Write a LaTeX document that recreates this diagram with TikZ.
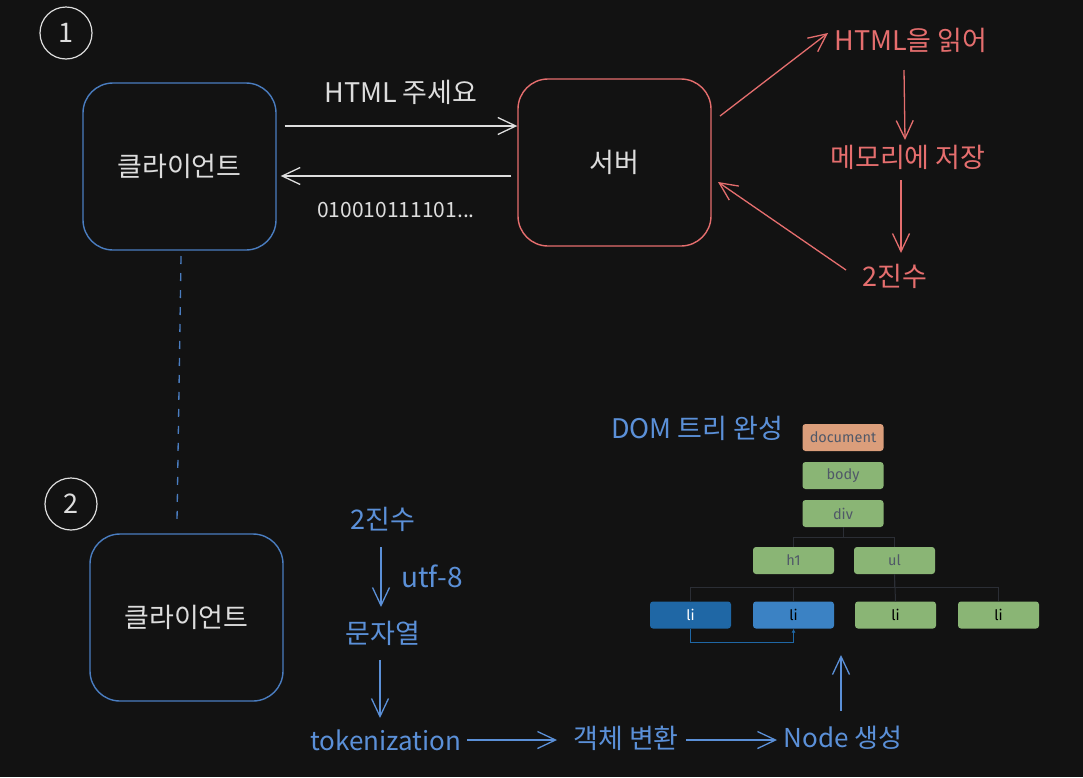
\documentclass[tikz,border=0pt]{standalone}
\usepackage{fontspec}
\setmainfont{Noto Sans CJK KR}
\newfontfamily\domfont{Fira Sans}
\usetikzlibrary{arrows.meta}
\definecolor{bg}{HTML}{121212}
\definecolor{ink}{HTML}{DDDDDD}
\definecolor{cblue}{HTML}{4A7DC0}
\definecolor{lblue}{HTML}{5B90D8}
\definecolor{cred}{HTML}{E56E6E}
\definecolor{dorange}{HTML}{DB9E7B}
\definecolor{dgreen}{HTML}{8AB575}
\definecolor{dblue1}{HTML}{1F67A5}
\definecolor{dblue2}{HTML}{3B82C4}
\definecolor{dline}{HTML}{2B2E35}
\definecolor{dtext}{HTML}{505868}
\tikzset{
  bigbox/.style={draw, line width=1.4pt, rounded corners=30pt, minimum width=193pt, minimum height=167pt, text=ink, font=\fontsize{27}{32}\selectfont},
  numcirc/.style={circle, draw=ink, line width=1.2pt, minimum size=52pt, inner sep=0pt, text=ink, font=\fontsize{27}{31}\selectfont},
  lbl/.style={inner sep=2pt, font=\fontsize{27}{32}\selectfont},
  arr/.style={line width=1.3pt, -{Straight Barb[length=18pt,width=17pt,line width=1.3pt]}},
  domb/.style={rounded corners=3pt, minimum width=81pt, minimum height=27pt, inner sep=0pt, font=\domfont\fontsize{14.5}{17}\selectfont, text=dtext},
  dcon/.style={draw=dline, line width=1pt}
}
\begin{document}
\begin{tikzpicture}[x=1pt,y=-1pt]
\fill[bg] (0,0) rectangle (1083,777);
\useasboundingbox (0,0) rectangle (1083,777);

% section 1
\node[numcirc] (n1) at (66,33) {1};
\node[bigbox, draw=cblue] (c1) at (179.5,166.5) {클라이언트};
\node[bigbox, draw=cred] (srv) at (614.5,162.5) {서버};
\coordinate (ry1) at (0,126);
\coordinate (ry2) at (0,176);
\node[lbl, text=ink] (req) at (401,92) {HTML 주세요};
\node[lbl, text=ink, font=\fontsize{21}{25}\selectfont] (bits) at (396,210) {010010111101...};
\draw[arr, ink] ([xshift=8pt]c1.east |- ry1) -- (srv.west |- ry1);
\draw[arr, ink] ([xshift=-6pt]srv.west |- ry2) -- ([xshift=4pt]c1.east |- ry2);

\node[lbl, text=cred] (read) at (911,40) {HTML을 읽어};
\node[lbl, text=cred] (mem) at (908,157) {메모리에 저장};
\node[lbl, text=cred] (bin1) at (895,276) {2진수};
\draw[arr, cred] ([xshift=105.5pt,yshift=46.5pt]srv.center) -- ([xshift=-83pt,yshift=7pt]read.center);
\draw[arr, cred] ([xshift=-7pt,yshift=-30pt]read.center) -- ([xshift=-3pt,yshift=17pt]mem.center);
\draw[arr, cred] ([xshift=-7pt,yshift=-23pt]mem.center) -- ([xshift=6pt,yshift=23pt]bin1.center);
\draw[arr, cred] ([xshift=-49pt,yshift=6pt]bin1.center) -- ([xshift=103.5pt,yshift=-19.5pt]srv.center);

% section 2
\node[bigbox, draw=cblue] (c2) at (186.5,617.5) {클라이언트};
\node[numcirc] (n2) at (71,504) {2};
\draw[cblue, line width=1.3pt, dash pattern=on 8pt off 9pt] ([xshift=1.5pt,yshift=-89.5pt]c1.center) -- ([xshift=-9.5pt,yshift=95.5pt]c2.center);

\node[lbl, text=lblue] (b2) at (383,519) {2진수};
\node[lbl, text=lblue, font=\fontsize{28}{33}\selectfont] (utf) at (432,576) {utf-8};
\node[lbl, text=lblue] (str) at (383,633) {문자열};
\node[lbl, text=lblue, font=\fontsize{26}{31}\selectfont] (tok) at (386,740) {tokenization};
\node[lbl, text=lblue] (obj) at (626,738) {객체 변환};
\node[lbl, text=lblue, font=\fontsize{26}{31}\selectfont] (nd) at (843,738) {Node 생성};
\node[lbl, text=lblue] (domt) at (697,428) {DOM 트리 완성};

\draw[arr, lblue] ([xshift=-2pt,yshift=-28pt]b2.center) -- ([xshift=-2pt,yshift=26pt]str.center);
\draw[arr, lblue] ([xshift=-3pt,yshift=-27pt]str.center) -- ([xshift=-6pt,yshift=22pt]tok.center);
\draw[arr, lblue] ([xshift=81pt]tok.center) -- ([xshift=-69pt]obj.center |- tok.center);
\draw[arr, lblue] ([xshift=60pt]obj.center |- tok.center) -- ([xshift=-66pt]nd.center |- tok.center);

% DOM tree
\node[domb, fill=dorange] (doc) at (843,437.5) {document};
\node[domb, fill=dgreen] (body) at (843,475.5) {body};
\node[domb, fill=dgreen] (div) at (843,513.5) {div};
\node[domb, fill=dgreen] (h1) at (793.5,560.5) {h1};
\node[domb, fill=dgreen] (ul) at (894.5,560.5) {ul};
\node[domb, fill=dblue1, text=white] (li1) at (690.5,615) {li};
\node[domb, fill=dblue2, text=black] (li2) at (793.5,615) {li};
\node[domb, fill=dgreen, text=black] (li3) at (895.5,615) {li};
\node[domb, fill=dgreen, text=black] (li4) at (998.5,615) {li};

\draw[dcon] (div.south) -- ++(0,10) -| (h1.north);
\draw[dcon] (div.south) ++(0,10) -| (ul.north);
\draw[dcon] (ul.south) -- ++(0,13) -| (li1.north);
\draw[dcon] (ul.south) ++(0,13) -| (li2.north);
\draw[dcon] (ul.south) -- (li3.north);
\draw[dcon] (ul.south) ++(0,13) -| (li4.north);
\draw[dblue1, line width=1.3pt, -{Latex[length=4pt,width=4pt]}] (li1.south) -- ++(0,14) -| (li2.south);

\draw[arr, lblue] ([xshift=-2pt,yshift=27pt]nd.center) -- ++(0,-56);
\end{tikzpicture}
\end{document}
